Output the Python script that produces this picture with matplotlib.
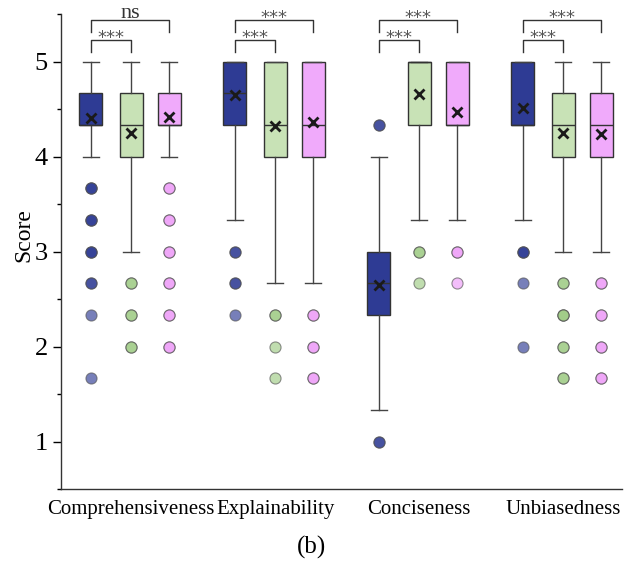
import numpy as np
import matplotlib
matplotlib.use("Agg")
import matplotlib.pyplot as plt
from matplotlib.ticker import MultipleLocator

plt.rcParams['font.family'] = ['Liberation Serif', 'DejaVu Serif']

categories = ['Comprehensiveness', 'Explainability', 'Conciseness', 'Unbiasedness']

# per category: [blue, green, pink]
q1 = [[4.33, 4.00, 4.33], [4.33, 4.00, 4.00], [2.33, 4.33, 4.33], [4.33, 4.00, 4.00]]
med = [[4.33, 4.33, 4.33], [4.67, 4.33, 4.33], [2.67, 5.00, 4.33], [4.33, 4.33, 4.33]]
q3 = [[4.67, 4.67, 4.67], [5.00, 5.00, 5.00], [3.00, 5.00, 5.00], [5.00, 4.67, 4.67]]
whislo = [[4.00, 3.00, 4.00], [3.33, 2.67, 2.67], [1.33, 3.33, 3.33], [3.33, 3.00, 3.00]]
whishi = [[5.00, 5.00, 5.00], [5.00, 5.00, 5.00], [4.00, 5.00, 5.00], [5.00, 5.00, 5.00]]
means = [[4.41, 4.25, 4.42], [4.65, 4.32, 4.37], [2.645, 4.66, 4.47], [4.51, 4.25, 4.24]]
fliers = [
    [[3.67, 3.67, 3.67, 3.33, 3.33, 3.33, 3.0, 3.0, 3.0, 2.67, 2.67, 2.33, 1.67],
     [2.67, 2.67, 2.33, 2.33, 2.0, 2.0],
     [3.67, 3.67, 3.33, 3.33, 3.0, 3.0, 2.67, 2.67, 2.33, 2.33, 2.0, 2.0]],
    [[3.0, 3.0, 2.67, 2.67, 2.33],
     [2.33, 2.33, 2.0, 1.67],
     [2.33, 2.33, 2.0, 2.0, 1.67, 1.67]],
    [[4.33, 4.33, 1.0, 1.0],
     [3.0, 3.0, 2.67],
     [3.0, 3.0, 2.67]],
    [[3.0, 3.0, 3.0, 2.67, 2.0],
     [2.67, 2.67, 2.33, 2.33, 2.33, 2.0, 2.0, 1.67, 1.67],
     [2.67, 2.67, 2.33, 2.33, 2.0, 2.0, 1.67, 1.67]],
]
sig_low = ['***', '***', '***', '***']   # blue vs green
sig_high = ['ns', '***', '***', '***']   # blue vs pink

box_colors = ['#2E3B94', '#C8E2B6', '#F0AAFB']
flier_colors = ['#2E3B94', '#9FCB84', '#EE9CF8']
offsets = [-0.28, 0.0, 0.265]
width = 0.16

fig = plt.figure(figsize=(6.24, 5.70), dpi=100)
ax = fig.add_axes([0.098, 0.142, 0.899, 0.833])

stats, positions, colors, fcolors = [], [], [], []
for i in range(len(categories)):
    for j in range(3):
        stats.append(dict(q1=q1[i][j], med=med[i][j], q3=q3[i][j],
                          whislo=whislo[i][j], whishi=whishi[i][j],
                          mean=means[i][j], fliers=fliers[i][j]))
        positions.append(i + offsets[j])
        colors.append(box_colors[j])
        fcolors.append(flier_colors[j])

bp = ax.bxp(stats, positions=positions, widths=width, capwidths=0.11,
            patch_artist=True, showmeans=True, showfliers=True,
            boxprops=dict(edgecolor='#333333', linewidth=1.0),
            medianprops=dict(color='#333333', linewidth=1.0),
            whiskerprops=dict(color='#444444', linewidth=1.0),
            capprops=dict(color='#444444', linewidth=1.0),
            meanprops=dict(marker='x', markeredgecolor='#1a1a1a', markersize=7,
                           markeredgewidth=2.0, linestyle='none'),
            flierprops=dict(marker='o', markersize=8, markeredgecolor='#555555',
                            markeredgewidth=0.8, alpha=0.65, linestyle='none'))
for patch, c in zip(bp['boxes'], colors):
    patch.set_facecolor(c)
for fl, c in zip(bp['fliers'], fcolors):
    fl.set_markerfacecolor(c)

# significance brackets
def bracket(x1, x2, h, leg, label):
    ax.plot([x1, x1, x2, x2], [h - leg, h, h, h - leg], color='#333333', lw=1.0,
            clip_on=False)
    if label == 'ns':
        ax.text((x1 + x2) / 2, h - 0.03, label, ha='center', va='bottom',
                fontsize=16, color='#333333')
    else:
        ax.text((x1 + x2) / 2, h - 0.075, label, ha='center', va='bottom',
                fontsize=13, color='#555555', family='DejaVu Sans')

for i in range(len(categories)):
    bracket(i + offsets[0], i + offsets[1], 5.225, 0.125, sig_low[i])
    bracket(i + offsets[0], i + offsets[2], 5.44, 0.125, sig_high[i])

ax.set_xlim(-0.486, 3.41)
ax.set_ylim(0.5, 5.5)
ax.set_xticks(range(len(categories)))
ax.set_xticklabels(categories, fontsize=15)
ax.tick_params(axis='x', length=0, pad=8)
ax.yaxis.set_major_locator(MultipleLocator(1))
ax.yaxis.set_minor_locator(MultipleLocator(0.5))
ax.tick_params(axis='y', which='major', length=6, width=1, labelsize=19, direction='out')
ax.tick_params(axis='y', which='minor', length=3, width=1, direction='out')
ax.set_ylabel('Score', fontsize=17)
ax.yaxis.set_label_coords(-0.047, 0.535)
for s in ['top', 'right']:
    ax.spines[s].set_visible(False)
for s in ['left', 'bottom']:
    ax.spines[s].set_linewidth(1.0)
    ax.spines[s].set_color('#333333')

fig.text(0.5, 0.039, '(b)', ha='center', va='center', fontsize=18)

fig.savefig('out.png', dpi=100)
